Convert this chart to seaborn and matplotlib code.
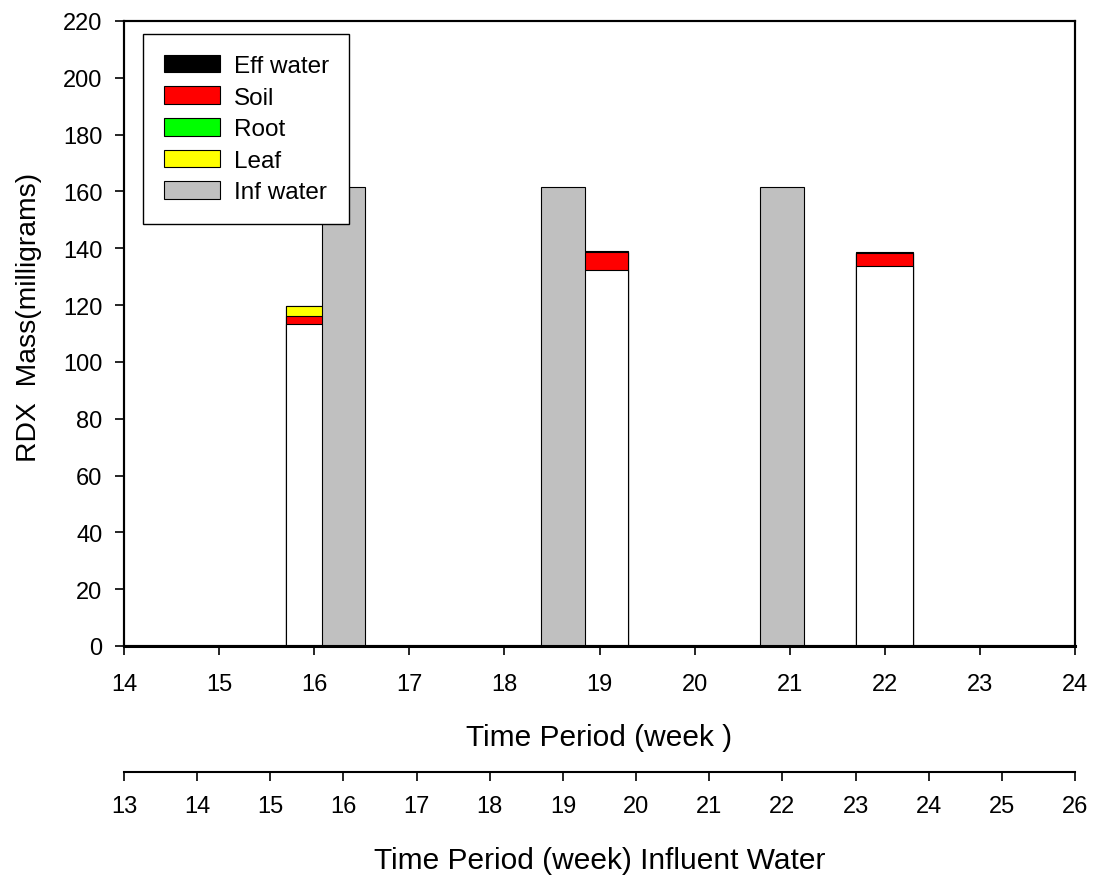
import numpy as np
import pandas as pd
import matplotlib
matplotlib.use("Agg")
import matplotlib.pyplot as plt
from matplotlib.patches import Patch
import seaborn as sns

# ---------------- data ----------------
weeks = [16, 19, 22]                 # time period (week), main axis
remaining = [113.2, 132.3, 133.9]    # unlabelled white base of stacks
soil = [3.1, 6.3, 4.6]
root = [0.0, 0.0, 0.0]
leaf = [3.5, 0.0, 0.0]
eff_water = [0.0, 0.4, 0.3]

inf_weeks = [16, 19, 22]             # time period (week) influent water
inf_water = [161.7, 161.7, 161.7]

main_ticks = list(range(14, 25))
inf_ticks = list(range(13, 27))
y_ticks = list(range(0, 221, 20))

legend_labels = ["Eff water", "Soil", "Root", "Leaf", "Inf water"]
legend_colors = ["#000000", "#FF0000", "#00FF00", "#FFFF00", "#C0C0C0"]

# ---------------- style ----------------
sns.set_theme(style="ticks")
plt.rcParams["font.family"] = ["Liberation Sans", "DejaVu Sans"]
plt.rcParams["axes.edgecolor"] = "black"
plt.rcParams["xtick.color"] = "black"
plt.rcParams["ytick.color"] = "black"
plt.rcParams["text.color"] = "black"
plt.rcParams["axes.labelcolor"] = "black"

W, H = 1094, 878
fig = plt.figure(figsize=(W / 100, H / 100), dpi=100)
left, right, top, bottom = 124, 1075, 22, 647
ax = fig.add_axes([left / W, 1 - bottom / H, (right - left) / W, (bottom - top) / H])

# stacked bars (cumulative overlay, tallest first)
df = pd.DataFrame({"week": weeks, "remaining": remaining, "soil": soil,
                   "root": root, "leaf": leaf, "eff": eff_water})
layers = [("remaining", "#FFFFFF"), ("soil", "#FF0000"), ("root", "#00FF00"),
          ("leaf", "#FFFF00"), ("eff", "#000000")]
cum = df[[l for l, _ in layers]].cumsum(axis=1)
for name, col in reversed(layers):
    if name != "remaining" and df[name].sum() == 0:
        continue
    sns.barplot(x=df["week"], y=cum[name], native_scale=True, width=0.2,
                color=col, saturation=1, edgecolor="black", linewidth=0.8,
                errorbar=None, ax=ax)

ax.set_xlim(14, 24)
ax.set_ylim(0, 220)
ax.set_xticks(main_ticks)
ax.set_xticklabels([str(t) for t in main_ticks])
ax.set_yticks(y_ticks)
ax.set_yticklabels([str(t) for t in y_ticks])
ax.tick_params(axis="both", direction="out", length=6.5, width=1.2, labelsize=17)
ax.tick_params(axis="x", pad=13)
ax.tick_params(axis="y", pad=9)
for s in ax.spines.values():
    s.set_linewidth(1.5)
    s.set_visible(True)
ax.spines["bottom"].set_linewidth(2.2)
ax.set_xlabel("Time Period (week )", fontsize=21.5, labelpad=20)
ax.set_ylabel("RDX  Mass(milligrams)", fontsize=20.3, labelpad=15)
ax.yaxis.label.set_y(0.528)

# influent water bars on a twin x-axis (13..26)
ax_t = ax.twiny()
inf_df = pd.DataFrame({"week": inf_weeks, "inf": inf_water})
sns.barplot(data=inf_df, x="week", y="inf", native_scale=True, width=0.2,
            color="#C0C0C0", saturation=1, edgecolor="black", linewidth=0.8,
            errorbar=None, ax=ax_t)
ax_t.set_xlim(13, 26)
ax_t.set_ylim(0, 220)
ax_t.xaxis.set_visible(False)
ax_t.set_ylabel("")
ax_t.set_xlabel("")
for s in ax_t.spines.values():
    s.set_linewidth(1.5)

# secondary bottom axis: influent weeks
def fwd(x):
    return 13 + (np.asarray(x) - 14) * 1.3

def inv(x):
    return 14 + (np.asarray(x) - 13) / 1.3

loc = -(773 - bottom) / (bottom - top)
sec = ax.secondary_xaxis(loc, functions=(fwd, inv))
sec.set_xticks(inf_ticks)
sec.set_xticklabels([str(t) for t in inf_ticks])
sec.tick_params(direction="out", length=6.5, width=1.2, labelsize=17, pad=10)
sec.spines["bottom"].set_linewidth(1.5)
sec.set_xlabel("Time Period (week) Influent Water", fontsize=21.5, labelpad=21)

# legend
handles = [Patch(facecolor=c, edgecolor="black", linewidth=0.8) for c in legend_colors]
leg = fig.legend(handles, legend_labels, loc="upper left",
                 bbox_to_anchor=(143 / W, 1 - 35 / H), bbox_transform=fig.transFigure,
                 borderaxespad=0, fontsize=17.5, frameon=True, fancybox=False,
                 framealpha=1, edgecolor="black", handlelength=2.3, handleheight=0.75,
                 handletextpad=0.58, labelspacing=0.38, borderpad=0.85)
leg.get_frame().set_linewidth(1.0)

fig.savefig("out.png", dpi=100)
